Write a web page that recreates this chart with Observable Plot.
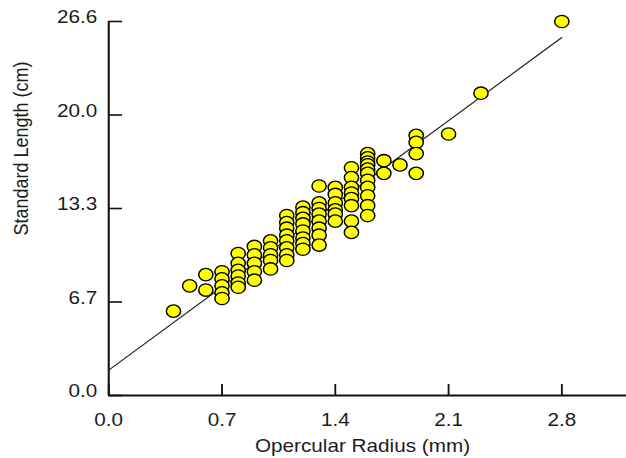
<!DOCTYPE html>
<html><head><meta charset="utf-8">
<script src="https://cdn.jsdelivr.net/npm/d3@7"></script>
<script src="https://cdn.jsdelivr.net/npm/@observablehq/plot@0.6"></script>
<style>
html,body{margin:0;padding:0;background:#fff;}
#chart svg{display:block;}
</style></head><body><div id="chart"></div>
<script>
// Opercular radius (mm) and standard length (cm), one entry per fish
const radius = [
  0.4,
  0.5,
  0.6, 0.6,
  0.7, 0.7, 0.7, 0.7, 0.7,
  0.8, 0.8, 0.8, 0.8, 0.8, 0.8,
  0.9, 0.9, 0.9, 0.9, 0.9,
  1.0, 1.0, 1.0, 1.0, 1.0,
  1.1, 1.1, 1.1, 1.1, 1.1, 1.1, 1.1, 1.1,
  1.2, 1.2, 1.2, 1.2, 1.2, 1.2, 1.2, 1.2,
  1.3, 1.3, 1.3, 1.3, 1.3, 1.3, 1.3, 1.3,
  1.4, 1.4, 1.4, 1.4, 1.4, 1.4,
  1.5, 1.5, 1.5, 1.5, 1.5, 1.5, 1.5, 1.5,
  1.6, 1.6, 1.6, 1.6, 1.6, 1.6, 1.6, 1.6, 1.6, 1.6, 1.6,
  1.7, 1.7,
  1.8,
  1.9, 1.9, 1.9, 1.9,
  2.1,
  2.3,
  2.8
];
const stdLength = [
  6.0,
  7.8,
  8.6, 7.5,
  8.8, 8.3, 7.8, 7.3, 6.9,
  10.1, 9.4, 8.9, 8.5, 8.0, 7.7,
  10.6, 10.0, 9.4, 8.8, 8.2,
  11.0, 10.5, 10.0, 9.6, 9.0,
  12.8, 12.3, 11.9, 11.4, 11.0, 10.5, 10.0, 9.6,
  13.4, 13.0, 12.6, 12.2, 11.7, 11.2, 10.8, 10.4,
  14.9, 13.7, 13.3, 12.9, 12.4, 11.9, 11.4, 10.7,
  14.8, 14.3, 13.7, 13.2, 12.9, 12.4,
  16.2, 15.5, 14.8, 14.4, 14.0, 13.5, 12.4, 11.6,
  17.2, 16.9, 16.6, 16.4, 16.1, 15.8, 15.3, 14.8, 14.2, 13.5, 12.8,
  16.7, 15.8,
  16.4,
  18.5, 18.0, 17.2, 15.8,
  18.6,
  21.5,
  26.6
];
const xTicks = [0, 0.7, 1.4, 2.1, 2.8];
const xTickLabels = ["0.0", "0.7", "1.4", "2.1", "2.8"];
const yTicks = [0, 6.65, 13.3, 19.95, 26.6];
const yTickLabels = ["0.0", "6.7", "13.3", "20.0", "26.6"];
const fitIntercept = 1.8;
const fitSlope = 8.45;
const xTitle = "Opercular Radius (mm)";
const yTitle = "Standard Length (cm)";

const points = radius.map((r, i) => ({r, L: stdLength[i]}));
const fitLine = [0, d3.max(radius)].map(x => ({r: x, L: fitIntercept + fitSlope * x}));

const W = 544, H = 458, OUT_W = 626;
const mL = 94, mT = 21, mB = 63, mR = 0;
const innerW = W - mL - mR, innerH = H - mT - mB;
const font = "'Liberation Sans', Arial, sans-serif";
const ink = "#1c1c1c";

const svg = Plot.plot({
  width: W, height: H,
  marginLeft: mL, marginTop: mT, marginBottom: mB, marginRight: mR,
  style: {fontFamily: font, fontSize: "18px", color: ink, background: "#fff", overflow: "visible"},
  x: {domain: [0, 3.2], axis: null},
  y: {domain: [0, 26.6], axis: null},
  marks: [
    Plot.line(fitLine, {x: "r", y: "L", stroke: "#222", strokeWidth: 1.1}),
    Plot.dot(points, {x: "r", y: "L", r: 6.2, fill: "#ffff00", stroke: "#000", strokeWidth: 1.3}),
    Plot.ruleX([0], {stroke: "#111", strokeWidth: 1.8}),
    Plot.ruleY([0], {stroke: "#111", strokeWidth: 1.8}),
    Plot.tickY(yTicks, {y: d => d, stroke: "#111", strokeWidth: 1.6, insetRight: innerW - 12}),
    Plot.tickX(xTicks, {x: d => d, stroke: "#111", strokeWidth: 1.6, insetTop: innerH - 11}),
    Plot.text(yTicks, {y: d => d, frameAnchor: "left", text: (d, i) => yTickLabels[i],
      textAnchor: "end", dx: -10, dy: -4, fill: ink, fontSize: 18}),
    Plot.text(xTicks, {x: d => d, frameAnchor: "bottom", text: (d, i) => xTickLabels[i],
      textAnchor: "middle", lineAnchor: "middle", dy: 25, fill: ink, fontSize: 18}),
    Plot.text([xTitle], {frameAnchor: "bottom", textAnchor: "middle", lineAnchor: "middle",
      dx: -4.5, dy: 51, fill: ink, fontSize: 18}),
    Plot.text([yTitle], {frameAnchor: "left", textAnchor: "middle", lineAnchor: "middle", rotate: -90,
      dx: -75.7, dy: -60, fill: ink, fontSize: 18})
  ]
});
svg.setAttribute("viewBox", `0 0 ${W} ${H}`);
svg.setAttribute("width", OUT_W);
svg.setAttribute("height", H);
svg.setAttribute("preserveAspectRatio", "none");
svg.style.maxWidth = "none";
svg.style.width = OUT_W + "px";
svg.style.height = H + "px";
document.getElementById("chart").appendChild(svg);
</script></body></html>
